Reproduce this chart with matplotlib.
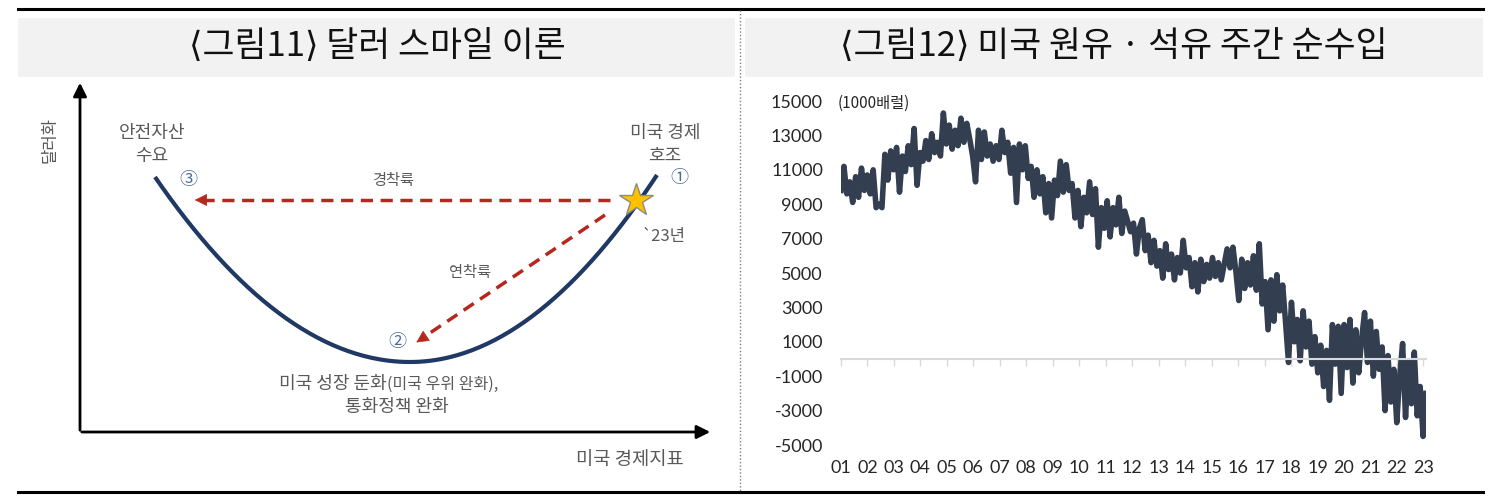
"""
그림11 달러 스마일 이론 / 그림12 미국 원유·석유 주간 순수입
"""
import numpy as np
import matplotlib.pyplot as plt
import matplotlib.transforms as mtransforms
from matplotlib.patches import Rectangle

plt.rcParams['font.family'] = ['Noto Sans CJK KR', 'DejaVu Sans']

# right chart data (1000 barrels, weekly net imports)
year_labels = ['%02d' % y for y in range(1, 24)]
y_ticks = [-5000, -3000, -1000, 1000, 3000, 5000, 7000, 9000, 11000, 13000, 15000]
net_imports = [
    9800, 11200, 9600, 10300, 9100, 10600, 9400, 11100, 9800,        # 01
    10700, 9600, 11000, 8800, 9000, 8800, 11900, 10400, 12100,       # 02
    11000, 12300, 9700, 11800, 10900, 12400, 11300, 13400, 10100,    # 03
    12000, 11500, 12700, 11600, 13100, 12000, 12600, 11800, 14300,   # 04
    12500, 13600, 12200, 13300, 12400, 14000, 12600, 13700, 12800,   # 05
    11800, 10300, 13300, 11600, 13200, 11800, 12500, 11500, 12400,   # 06
    11600, 13300, 12000, 12600, 10800, 12300, 9100, 12500, 11000,    # 07
    12400, 10500, 11200, 9400, 11000, 9600, 10600, 8500, 10200,      # 08
    8200, 10400, 9500, 11500, 9700, 11300, 9800, 10200, 8200,        # 09
    9800, 7700, 9400, 8500, 10300, 8400, 9900, 6500, 8800,           # 10
    7600, 9200, 7100, 8800, 7800, 9400, 7300, 8600, 8000,            # 11
    7400, 7900, 6100, 7600, 8100, 6300, 7200, 5600, 6900,            # 12
    5400, 6300, 4700, 6700, 5200, 6100, 4600, 5900, 5000,            # 13
    6900, 5300, 5900, 4200, 5600, 3900, 5800, 4500, 5500,            # 14
    4700, 5900, 4800, 5600, 4600, 5500, 6400, 5300, 6500,            # 15
    5100, 3400, 5800, 4100, 5600, 4300, 6000, 4000, 6700,            # 16
    3200, 4500, 1700, 4600, 2200, 4900, 2800, 4300, 2100,            # 17
    -200, 3300, 1000, 2300, -100, 2800, 700, 2200, -300,             # 18
    1300, -800, 800, -1600, 500, -2400, 2000, -300, 1900,            # 19
    -2000, 2000, -500, 2300, -1400, 1700, -800, 1200, 2700,          # 20
    -200, 2200, -1000, 1600, -600, 700, -3000, 200, -2500,           # 21
    -600, -3700, -1000, 900, -3400, -100, -2600, 400, -3300,         # 22
    -1600, -4500, -2000,                                             # 23
]

# left diagram: U curve anchors (pixel layout of the schematic)
smile_left = (155, 177)
smile_bottom = (410, 362)
smile_right = (657, 175)

red = '#b5281f'
navy = '#1f3864'
gray_txt = '#595959'
num_col = '#4a6a96'

fig = plt.figure(figsize=(15, 4.99), dpi=100)

# background / frame layer in pixel coords
bg = fig.add_axes([0, 0, 1, 1])
bg.set_xlim(0, 1500)
bg.set_ylim(499, 0)
bg.axis('off')

bg.add_patch(Rectangle((18, 18), 717, 59, color='#f2f2f2', lw=0))
bg.add_patch(Rectangle((745, 18), 738, 59, color='#f2f2f2', lw=0))
bg.plot([18, 1483], [9, 9], color='black', lw=2.2)
bg.plot([18, 1483], [492, 492], color='black', lw=2.2)
bg.plot([740, 740], [10, 491], color='#808080', lw=1, linestyle=(0, (1, 1.5)))

bg.text(377, 46, '⟨그림11⟩ 달러 스마일 이론', fontsize=25, ha='center', va='center',
        color='#111111', fontweight='medium')
bg.text(1114, 46, '⟨그림12⟩ 미국 원유 · 석유 주간 순수입', fontsize=25, ha='center', va='center',
        color='#111111', fontweight='medium')

# ---- left: dollar smile ----
bg.annotate('', xy=(80, 80), xytext=(80, 433),
            arrowprops=dict(arrowstyle='-|>', color='black', lw=2, mutation_scale=20))
bg.annotate('', xy=(713, 432), xytext=(79, 432),
            arrowprops=dict(arrowstyle='-|>', color='black', lw=2, mutation_scale=20))
bg.text(50, 140, '달러화', rotation=90, fontsize=12, ha='center', va='center', color=gray_txt)
bg.text(630, 459, '미국 경제지표', fontsize=13.5, ha='center', va='center', color=gray_txt)

xl = np.linspace(smile_left[0], smile_bottom[0], 100)
yl = smile_bottom[1] - (smile_bottom[1] - smile_left[1]) * ((smile_bottom[0] - xl) / (smile_bottom[0] - smile_left[0])) ** 2
xr = np.linspace(smile_bottom[0], smile_right[0], 100)
yr = smile_bottom[1] - (smile_bottom[1] - smile_right[1]) * ((xr - smile_bottom[0]) / (smile_right[0] - smile_bottom[0])) ** 2
bg.plot(np.r_[xl, xr], np.r_[yl, yr], color=navy, lw=3, solid_capstyle='butt')

# dashed arrows
bg.plot([610, 203], [200, 200], color=red, lw=2.5, dashes=(3.5, 2.2))
bg.annotate('', xy=(192, 200), xytext=(206, 200),
            arrowprops=dict(arrowstyle='-|>', color=red, lw=0.5, mutation_scale=20))
bg.plot([605, 424], [215, 337], color=red, lw=2.5, dashes=(3.5, 2.2))
bg.annotate('', xy=(414, 344), xytext=(426, 336),
            arrowprops=dict(arrowstyle='-|>', color=red, lw=0.5, mutation_scale=20))

bg.plot([636], [200], marker='*', markersize=25, color='#ffc000',
        markeredgecolor='#8a8a8a', markeredgewidth=1)

bg.text(152, 133, '안전자산', fontsize=13, ha='center', va='center', color=gray_txt)
bg.text(152, 156, '수요', fontsize=13, ha='center', va='center', color=gray_txt)
bg.text(665, 133, '미국 경제', fontsize=13, ha='center', va='center', color=gray_txt)
bg.text(665, 156, '호조', fontsize=13, ha='center', va='center', color=gray_txt)
bg.text(188, 180, '③', fontsize=13, ha='center', va='center', color=num_col)
bg.text(679, 178, '①', fontsize=13, ha='center', va='center', color=num_col)
bg.text(397, 342, '②', fontsize=13, ha='center', va='center', color=num_col)
bg.text(393, 181, '경착륙', fontsize=11, ha='center', va='center', color=gray_txt)
bg.text(470, 272, '연착륙', fontsize=11, ha='center', va='center', color=gray_txt)
bg.text(664, 237, '`23년', fontsize=12, ha='center', va='center', color=gray_txt)
bg.text(387, 384, '미국 성장 둔화', fontsize=13, ha='right', va='center', color=gray_txt)
bg.text(387, 384, '(미국 우위 완화),', fontsize=11.5, ha='left', va='center', color=gray_txt)
bg.text(397, 407, '통화정책 완화', fontsize=13, ha='center', va='center', color=gray_txt)

# ---- right: weekly net imports ----
ax = fig.add_axes([841 / 1500, (499 - 445) / 499, 585 / 1500, 344 / 499])
ax.patch.set_alpha(0)
x = np.linspace(0, 22.1, len(net_imports))
ax.plot(x, net_imports, color='#333f50', lw=4, solid_joinstyle='round')
ax.set_xlim(0, 22.1)
ax.set_ylim(-5000, 15000)

for s in ['top', 'right', 'left']:
    ax.spines[s].set_visible(False)
ax.spines['bottom'].set_position(('data', 0))
ax.spines['bottom'].set_color('#d9d9d9')
ax.spines['bottom'].set_linewidth(1.5)
ax.set_xticks(range(len(year_labels)))
ax.tick_params(axis='x', length=5, width=1, color='#d9d9d9', labelbottom=False)
ax.set_yticks(y_ticks)
ax.set_yticklabels([str(v) for v in y_ticks], fontfamily='Lato', fontsize=13, color='#262626')
ax.tick_params(axis='y', length=0, pad=13)

trans = mtransforms.blended_transform_factory(ax.transData, bg.transData)
for i, lab in enumerate(year_labels):
    ax.text(i, 468, lab, transform=trans, ha='center', va='center',
            fontfamily='Lato', fontsize=13, color='#262626')

bg.text(838, 103, '(1000배럴)', fontsize=11, ha='left', va='center', color='#262626')

fig.savefig('out.png', dpi=100)
